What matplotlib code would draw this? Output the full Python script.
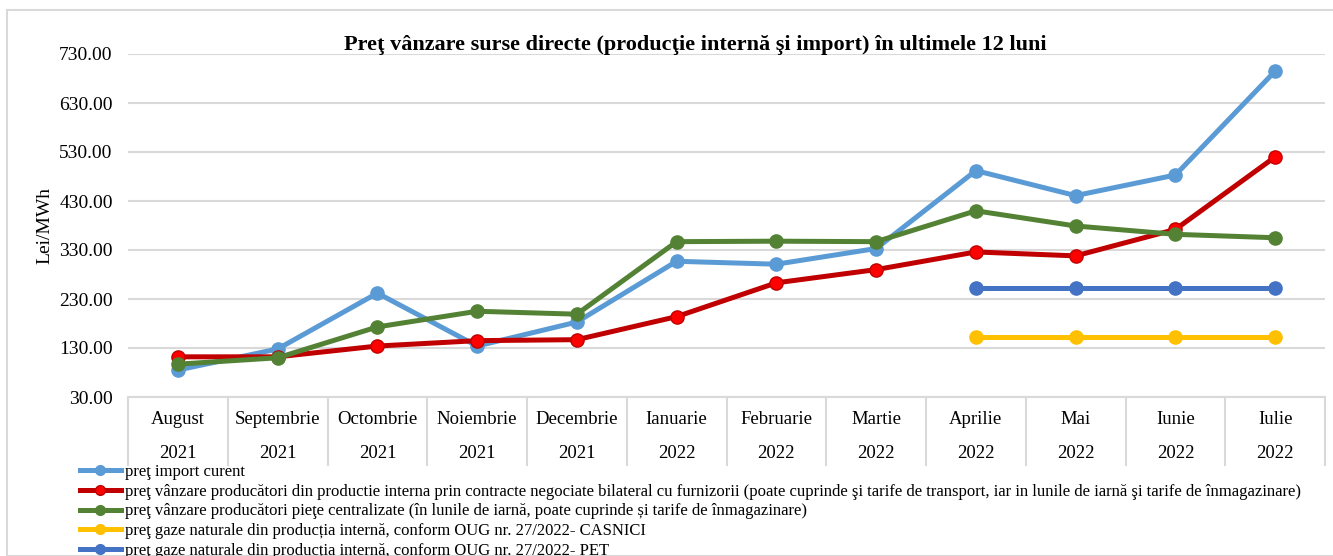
import matplotlib
matplotlib.use("Agg")
import matplotlib.pyplot as plt
from matplotlib.patches import Rectangle
from matplotlib.lines import Line2D

months = ["August", "Septembrie", "Octombrie", "Noiembrie", "Decembrie", "Ianuarie",
          "Februarie", "Martie", "Aprilie", "Mai", "Iunie", "Iulie"]
years = ["2021", "2021", "2021", "2021", "2021", "2022",
         "2022", "2022", "2022", "2022", "2022", "2022"]

import_curent = [85, 128, 242, 134, 183, 307, 301, 333, 492, 441, 483, 695]
bilateral = [112, 112, 134, 145, 147, 194, 263, 290, 326, 318, 372, 520]
centralizate = [97, 110, 173, 205, 199, 347, 348, 347, 410, 379, 362, 355]
casnici = [None] * 8 + [152, 152, 152, 152]
pet = [None] * 8 + [252, 252, 252, 252]

labels = [
    "preţ import curent",
    "preţ vânzare producători din productie interna prin contracte negociate bilateral cu furnizorii (poate cuprinde şi tarife de transport, iar in lunile de iarnă şi tarife de înmagazinare)",
    "preţ vânzare producători pieţe centralizate (în lunile de iarnă, poate cuprinde și tarife de înmagazinare)",
    "preţ gaze naturale din producția internă, conform OUG nr. 27/2022- CASNICI",
    "preţ gaze naturale din producția internă, conform OUG nr. 27/2022- PET",
]
yticks = [30, 130, 230, 330, 430, 530, 630, 730]

plt.rcParams['font.family'] = ['Liberation Serif', 'DejaVu Serif']

W, H = 1333, 556
fig = plt.figure(figsize=(W / 100, H / 100), dpi=100)
fig.patches.append(Rectangle((7 / W, 0), 1.2, 1 - 10 / H, transform=fig.transFigure,
                             fill=False, edgecolor='#D9D9D9', linewidth=1.5))

ax = fig.add_axes([128 / W, 1 - 397 / H, (1325 - 128) / W, (397 - 54) / H])
x = list(range(len(months)))

def xs_ys(vals):
    pts = [(i, v) for i, v in zip(x, vals) if v is not None]
    return [p[0] for p in pts], [p[1] for p in pts]

series = [
    (import_curent, '#5B9BD5', '#5B9BD5', '#5B9BD5'),
    (bilateral, '#C00000', '#FF0000', '#C00000'),
    (centralizate, '#548235', '#548235', '#548235'),
    (casnici, '#FFC000', '#FFC000', '#FFC000'),
    (pet, '#4472C4', '#4472C4', '#4472C4'),
]
handles = []
for (vals, lc, mfc, mec), lab in zip(series, labels):
    xx, yy = xs_ys(vals)
    ax.plot(xx, yy, color=lc, linewidth=3.6, marker='o', markersize=9.5,
            markerfacecolor=mfc, markeredgecolor=mec, markeredgewidth=1, zorder=3, clip_on=False)
    handles.append(Line2D([0], [0], color=lc, linewidth=3.6, marker='o', markersize=7,
                          markerfacecolor=mfc, markeredgecolor=mec))

ax.set_xlim(-0.5, 11.5)
ax.set_ylim(30, 730)
ax.set_yticks(yticks)
ax.set_yticklabels([f"{v:.2f}" for v in yticks], fontsize=14)
ax.tick_params(axis='y', length=0, pad=11)
ax.set_xticks([])
ax.grid(axis='y', color='#D9D9D9', linewidth=1.5)
ax.set_axisbelow(True)
for s in ['left', 'right', 'top']:
    ax.spines[s].set_visible(False)
ax.spines['bottom'].set_color('#D9D9D9')
ax.spines['bottom'].set_linewidth(1.5)

# category table below
trans = ax.get_xaxis_transform()
ph = 397 - 54
cell_h = (465 - 397) / ph
for b in range(len(months) + 1):
    ax.plot([b - 0.5, b - 0.5], [0, -cell_h], transform=trans, color='#D9D9D9',
            linewidth=1.5, clip_on=False)
for i, (m, yv) in enumerate(zip(months, years)):
    ax.text(i, -(419 - 397) / ph, m, transform=trans, ha='center', va='center', fontsize=13.5)
    ax.text(i, -(453 - 397) / ph, yv, transform=trans, ha='center', va='center', fontsize=13.5)

ax.set_ylabel("Lei/MWh", fontsize=14)
ax.yaxis.set_label_coords(-(128 - 53) / (1325 - 128), 0.5)

fig.text(695 / W, 1 - 45 / H, "Preţ vânzare surse directe (producţie internă şi import) în ultimele 12 luni",
         ha='center', va='center', fontsize=16, fontweight='bold')

fig.legend(handles, labels, loc='upper left', bbox_to_anchor=(80 / W, 1 - 464 / H),
           frameon=False, fontsize=12, handlelength=2.45, handletextpad=0.25,
           labelspacing=0.22, borderaxespad=0, borderpad=0)

fig.savefig("out.png", dpi=100)
